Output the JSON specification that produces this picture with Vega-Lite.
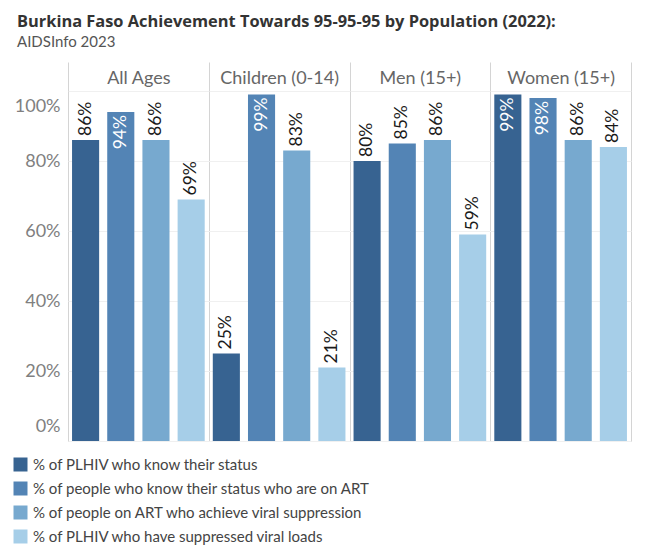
{
  "$schema": "https://vega.github.io/schema/vega-lite/v6.json",
  "width": 563,
  "height": 350,
  "autosize": {"type": "none"},
  "padding": {"left": 68, "top": 91, "right": 16, "bottom": 104},
  "background": "white",
  "config": {
    "font": "Lato",
    "view": {"stroke": "#d4d4d4"}
  },
  "title": {
    "text": "Burkina Faso Achievement Towards 95-95-95  by Population (2022):",
    "subtitle": "AIDSInfo 2023",
    "anchor": "start",
    "frame": "group",
    "dx": -51,
    "offset": 12,
    "font": "Open Sans",
    "fontSize": 16.4,
    "fontWeight": "bold",
    "color": "#333333",
    "subtitleFont": "Lato",
    "subtitleFontSize": 15,
    "subtitleColor": "#555555",
    "subtitlePadding": 4
  },
  "data": {
    "values": [
      {"pop": "All Ages", "ind": "% of PLHIV who know their status", "value": 0.86},
      {"pop": "All Ages", "ind": " % of people who know their status who are on ART", "value": 0.94},
      {"pop": "All Ages", "ind": " % of people on ART who achieve viral suppression", "value": 0.86},
      {"pop": "All Ages", "ind": "% of PLHIV who have suppressed viral loads", "value": 0.69},
      {"pop": "Children (0-14)", "ind": "% of PLHIV who know their status", "value": 0.25},
      {"pop": "Children (0-14)", "ind": " % of people who know their status who are on ART", "value": 0.99},
      {"pop": "Children (0-14)", "ind": " % of people on ART who achieve viral suppression", "value": 0.83},
      {"pop": "Children (0-14)", "ind": "% of PLHIV who have suppressed viral loads", "value": 0.21},
      {"pop": "Men (15+)", "ind": "% of PLHIV who know their status", "value": 0.80},
      {"pop": "Men (15+)", "ind": " % of people who know their status who are on ART", "value": 0.85},
      {"pop": "Men (15+)", "ind": " % of people on ART who achieve viral suppression", "value": 0.86},
      {"pop": "Men (15+)", "ind": "% of PLHIV who have suppressed viral loads", "value": 0.59},
      {"pop": "Women (15+)", "ind": "% of PLHIV who know their status", "value": 0.99},
      {"pop": "Women (15+)", "ind": " % of people who know their status who are on ART", "value": 0.98},
      {"pop": "Women (15+)", "ind": " % of people on ART who achieve viral suppression", "value": 0.86},
      {"pop": "Women (15+)", "ind": "% of PLHIV who have suppressed viral loads", "value": 0.84}
    ]
  },
  "encoding": {
    "x": {
      "field": "pop",
      "type": "nominal",
      "sort": ["All Ages", "Children (0-14)", "Men (15+)", "Women (15+)"],
      "scale": {"paddingInner": 0, "paddingOuter": 0},
      "axis": {
        "orient": "top",
        "title": null,
        "labelAngle": 0,
        "labelFontSize": 18,
        "labelColor": "#666666",
        "labelPadding": -25,
        "domain": false,
        "ticks": true,
        "tickBand": "extent",
        "tickSize": 29,
        "tickColor": "#d4d4d4",
        "grid": true,
        "gridColor": "#d4d4d4"
      }
    },
    "xOffset": {
      "field": "ind",
      "type": "nominal",
      "sort": [
        "% of PLHIV who know their status",
        " % of people who know their status who are on ART",
        " % of people on ART who achieve viral suppression",
        "% of PLHIV who have suppressed viral loads"
      ],
      "scale": {"paddingInner": 0.23, "paddingOuter": 0.115}
    },
    "y": {
      "field": "value",
      "type": "quantitative",
      "scale": {"domain": [0, 1]},
      "axis": {
        "title": null,
        "format": ".0%",
        "values": [0, 0.2, 0.4, 0.6, 0.8, 1],
        "labelFontSize": 18,
        "labelColor": "#808080",
        "labelPadding": 8,
        "labelFlush": true,
        "labelFlushOffset": -6,
        "domain": false,
        "ticks": false,
        "gridColor": "#f0f0f0"
      }
    }
  },
  "layer": [
    {
      "mark": {"type": "bar"},
      "encoding": {
        "color": {
          "field": "ind",
          "type": "nominal",
          "sort": [
            "% of PLHIV who know their status",
            " % of people who know their status who are on ART",
            " % of people on ART who achieve viral suppression",
            "% of PLHIV who have suppressed viral loads"
          ],
          "scale": {"range": ["#376391", "#5384b5", "#77a9cf", "#a6cee8"]},
          "legend": {
            "title": null,
            "orient": "none",
            "legendX": -55,
            "legendY": 366,
            "direction": "vertical",
            "symbolType": "square",
            "symbolSize": 196,
            "symbolOpacity": 1,
            "symbolStrokeWidth": 0,
            "labelFontSize": 15,
            "labelColor": "#444444",
            "labelLimit": 500,
            "rowPadding": 8,
            "labelOffset": 5
          }
        }
      }
    },
    {
      "transform": [{"filter": "datum.value < 0.9"}],
      "mark": {"type": "text", "angle": -90, "align": "left", "baseline": "middle", "dx": 4, "fontSize": 17.5, "color": "#1a1a1a"},
      "encoding": {"text": {"field": "value", "type": "quantitative", "format": ".0%"}}
    },
    {
      "transform": [{"filter": "datum.value >= 0.9"}],
      "mark": {"type": "text", "angle": -90, "align": "right", "baseline": "middle", "dx": -3, "fontSize": 17.5, "color": "#ffffff"},
      "encoding": {"text": {"field": "value", "type": "quantitative", "format": ".0%"}}
    }
  ]
}
